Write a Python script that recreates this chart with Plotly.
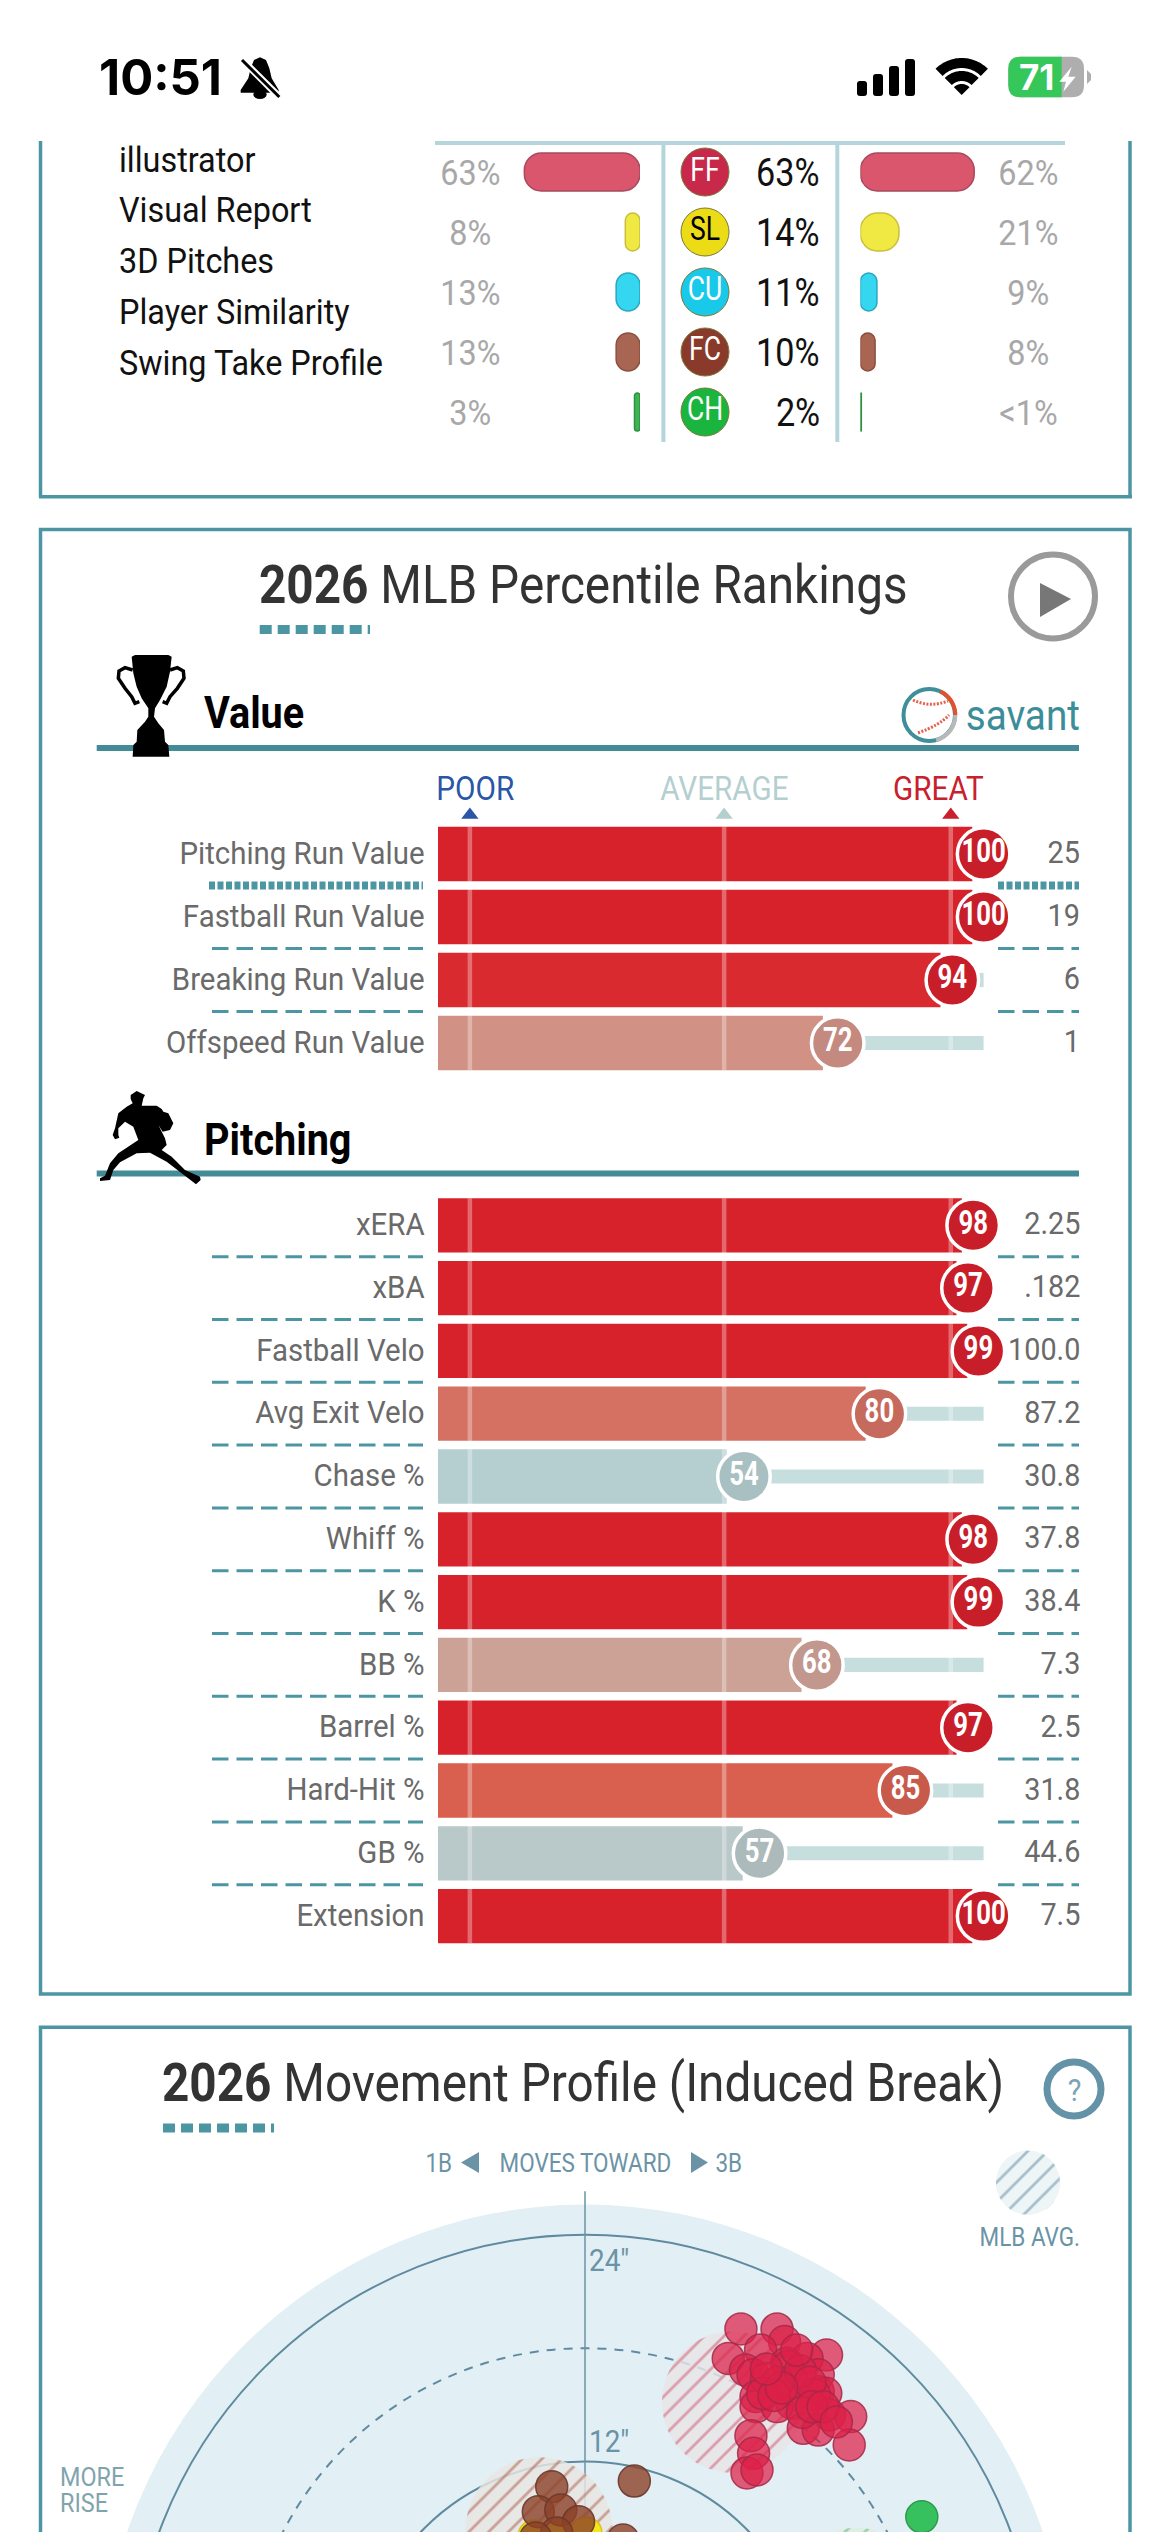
import numpy as np
import plotly.graph_objects as go

W, H = 1170, 2532
TEXT_FONT = "Roboto, sans-serif"
UI = "Inter, Liberation Sans, sans-serif"

# Pitch usage table
menu_items = ["illustrator", "Visual Report", "3D Pitches", "Player Similarity", "Swing Take Profile"]
menu_rows_y = [160, 210, 261, 312, 363]
pitch_codes = ["FF", "SL", "CU", "FC", "CH"]
usage_left = [63, 8, 13, 13, 3]
usage_mid = [63, 14, 11, 10, 2]
usage_right = [62, 21, 9, 8, 0.5]
usage_right_labels = ["62%", "21%", "9%", "8%", "<1%"]
pitch_fill = ["#d9566c", "#f0e843", "#35d7f0", "#a86552", "#3db552"]
pitch_edge = ["#a84a5c", "#c8bf3c", "#2aa5c0", "#8a4f40", "#2f8f40"]
badge_fill = ["#c8284a", "#ecdc15", "#19c9ea", "#8a3a2a", "#19b53e"]
badge_text = ["white", "black", "white", "white", "white"]

# Percentile rankings
value_names = ["Pitching Run Value", "Fastball Run Value", "Breaking Run Value", "Offspeed Run Value"]
value_pct = [100, 100, 94, 72]
value_stat = ["25", "19", "6", "1"]
value_bar = ["#d8222b", "#d8222b", "#d92a30", "#d19184"]
value_dot = ["#c81e29", "#c81e29", "#c81e29", "#c48a80"]

pitching_names = ["xERA", "xBA", "Fastball Velo", "Avg Exit Velo", "Chase %", "Whiff %",
                  "K %", "BB %", "Barrel %", "Hard-Hit %", "GB %", "Extension"]
pitching_pct = [98, 97, 99, 80, 54, 98, 99, 68, 97, 85, 57, 100]
pitching_stat = ["2.25", ".182", "100.0", "87.2", "30.8", "37.8", "38.4", "7.3", "2.5", "31.8", "44.6", "7.5"]
pitching_bar = ["#d8222b", "#d8222b", "#d8222b", "#d47162", "#b5cfd1", "#d8222b",
                "#d8222b", "#cca196", "#d8222b", "#d95f4e", "#b9c8c9", "#d8222b"]
pitching_dot = ["#c81e29", "#c81e29", "#c81e29", "#c56a5c", "#a9c0c3", "#c81e29",
                "#c81e29", "#c2978e", "#c81e29", "#c85a4b", "#adbabb", "#c81e29"]

guide_pct = [1.4, 50.2, 93.7]
guide_names = ["POOR", "AVERAGE", "GREAT"]
guide_colors = ["#2a56a5", "#b5cfd1", "#c8202c"]
guide_label_px = [475, 724, 938]

# Movement profile, in inches of induced break
ff_x = [8.25, 10.16, 10.56, 9.29, 7.58, 12.78, 11.75, 10.67, 8.49, 8.89, 10.75, 12.34, 10.95, 9.05, 12.34,
        11.15, 12.74, 12.14, 9.05, 10.95, 10.16, 12.94, 14.06, 11.55, 12.34, 13.98, 8.78, 8.92, 8.57, 9.1,
        9.6, 10.2, 11.4, 11.9, 9.4, 10.0, 10.4, 11.5, 12.0, 12.6, 13.3, 9.6, 11.2]
ff_y = [19.02, 19.02, 18.35, 17.91, 17.46, 17.64, 17.46, 17.2, 16.85, 16.59, 17.03, 16.59, 16.23, 15.44, 15.7,
        15.53, 15.61, 15.53, 14.91, 15.09, 14.91, 14.47, 14.38, 13.76, 13.67, 12.88, 13.37, 12.44, 11.4, 11.56,
        16.4, 16.2, 16.8, 16.2, 15.6, 15.5, 15.9, 14.6, 14.9, 14.9, 14.1, 16.9, 17.9]
fc_x = [-1.76, -2.47, -1.28, -0.34, -1.5, -2.61, 2.01, 2.61]
fc_y = [10.67, 9.35, 9.44, 8.82, 8.22, 7.96, 7.85, 10.97]
sl_x = [-2.7, -1.34, 0.05]
sl_y = [8.06, 8.17, 8.22]
ch_x = [17.82]
ch_y = [9.08]
avg_centers = {"FF": (7.81, 15.15, 3.74), "FC": (-2.43, 8.33, 3.9), "CH": (14.36, 5.1, 3.4), "ALL": (23.44, 26.76, 1.7)}
ring_inches = [12, 18, 24]
outer_inches = 25.6

# Pixel layout of the page
BAR_LEFT, BAR_FULL, DOT_FULL, DOT_AXIS_RIGHT = 438, 972.6, 983.6, 1010
PX_PER_PCT = 5.21
VALUE_Y0, VALUE_STEP = 854, 63
PITCH_Y0, PITCH_STEP = 1225.3, 62.8
TEAL = "#4c96a3"
RULE = "#438c97"
SLATE = "#6a93a6"
LABEL = "#6a6a6a"


def fx(px):
    return px / W


def fy(py):
    return 1 - py / H


fig = go.Figure()
shapes = []
notes = []


def note(x, y, text, size, color, anchor="left", yref="paper", family=TEXT_FONT, lift=0):
    x = x - 3 if anchor == "left" else x + 3 if anchor == "right" else x
    notes.append(dict(x=fx(x), y=fy(y) if yref == "paper" else y, xref="paper", yref=yref, text=text,
                      showarrow=False, xanchor=anchor, yanchor="middle", yshift=lift, align="left",
                      font=dict(family=family, size=size, color=color)))


def px_shape(**kw):
    kw.setdefault("xref", "x7")
    kw.setdefault("yref", "y5")
    kw.setdefault("layer", "above")
    shapes.append(kw)


def poly(points, close=True):
    s = "M " + " L ".join(f"{x:.2f},{y:.2f}" for x, y in points)
    return s + (" Z" if close else "")


def hline(x0, x1, y, color, width, dash="solid"):
    px_shape(type="line", x0=x0, x1=x1, y0=y, y1=y, line=dict(color=color, width=width, dash=dash))


def vline(x, y0, y1, color, width, dash="solid"):
    px_shape(type="line", x0=x, x1=x, y0=y0, y1=y1, line=dict(color=color, width=width, dash=dash))


def arc(cx, cy, r, a0, a1, n=40):
    t = np.radians(np.linspace(a0, a1, n))
    return list(zip(cx + r * np.cos(t), cy + r * np.sin(t)))


def rounded(x0, y0, x1, y1, r):
    return (f"M {x0+r},{y0} L {x1-r},{y0} Q {x1},{y0} {x1},{y0+r} L {x1},{y1-r} Q {x1},{y1} {x1-r},{y1} "
            f"L {x0+r},{y1} Q {x0},{y1} {x0},{y1-r} L {x0},{y0+r} Q {x0},{y0} {x0+r},{y0} Z")


# ---------- status bar ----------
note(100, 77, "<b>10:51</b>", 49, "black", family=UI)
bell = [(510, 52), (528, 60), (538, 85), (545, 115), (566, 150), (566, 158), (452, 158), (452, 150), (475, 115),
        (482, 85), (492, 60)]
bell_px = [(90 + a / 3, 40 + b / 3) for a, b in bell]
px_shape(type="path", path=poly(bell_px), fillcolor="black", line=dict(width=0))
px_shape(type="circle", x0=90 + 490 / 3, x1=90 + 530 / 3, y0=40 + 150 / 3, y1=40 + 177 / 3, fillcolor="black",
         line=dict(width=0))
px_shape(type="line", x0=90 + 452 / 3, y0=40 + 55 / 3, x1=90 + 572 / 3, y1=40 + 175 / 3, line=dict(color="white", width=7))
px_shape(type="line", x0=90 + 456 / 3, y0=40 + 60 / 3, x1=90 + 568 / 3, y1=40 + 171 / 3, line=dict(color="black", width=3))
for bx, top in zip([857, 873, 889, 905], [81, 74, 66, 59]):
    px_shape(type="path", path=rounded(bx, top, bx + 10, 96, 3), fillcolor="black", line=dict(width=0))
wifi_c = (961.7, 95)
for r0, r1 in [(27, 37), (14, 24)]:
    band = arc(*wifi_c, r1, -135, -45) + arc(*wifi_c, r0, -45, -135)
    px_shape(type="path", path=poly(band), fillcolor="black", line=dict(width=0))
px_shape(type="path", path=poly([wifi_c] + arc(*wifi_c, 11, -135, -45)), fillcolor="black", line=dict(width=0))
px_shape(type="path", path=rounded(1008.3, 56.7, 1084, 97.3, 12), fillcolor="#aeaeae", line=dict(width=0))
px_shape(type="path", path="M 1020,56.7 L 1061.7,56.7 L 1061.7,97.3 L 1020,97.3 Q 1008.3,97.3 1008.3,85 L 1008.3,69 Q 1008.3,56.7 1020,56.7 Z",
         fillcolor="#35c759", line=dict(width=0))
px_shape(type="path", path=poly([(1087, 70), (1091, 74), (1091, 80), (1087, 84)]), fillcolor="#aeaeae", line=dict(width=0))
note(1036, 77, "<b>71</b>", 35, "white", anchor="center", family=UI)
bolt = [(575, 80), (538, 125), (558, 125), (550, 155), (587, 110), (565, 110)]
px_shape(type="path", path=poly([(880 + a / 3, 40 + b / 3) for a, b in bolt]), fillcolor="white", line=dict(width=0))

# ---------- panel frames ----------
vline(40.5, 141, 497, TEAL, 3.5)
vline(1130, 141, 497, TEAL, 3.5)
hline(39, 1132, 496.7, TEAL, 3.5)
px_shape(type="rect", x0=40.5, x1=1130, y0=529.6, y1=1994, line=dict(color=TEAL, width=3.5), layer="below")
px_shape(type="rect", x0=40.5, x1=1130, y0=2027.3, y1=2600, line=dict(color=TEAL, width=3.5), layer="below")

# ---------- pitch usage table ----------
for label, y in zip(menu_items, menu_rows_y):
    note(120, y, label, 36, "#111111")
rows = list(range(len(pitch_codes)))

# An explicit zero base makes Plotly round both ends of each bar
for values, axis in ((usage_left, "x3"), (usage_right, "x5")):
    fig.add_bar(x=values, y=rows, base=[0] * len(rows), orientation="h", width=0.633, xaxis=axis, yaxis="y3",
                marker=dict(color=pitch_fill, line=dict(color=pitch_edge, width=1.5), cornerradius=17))
fig.add_scatter(x=[0] * len(rows), y=rows, mode="markers+text", text=pitch_codes, textposition="middle center",
                xaxis="x4", yaxis="y3", cliponaxis=False,
                textfont=dict(family=TEXT_FONT, size=34, color=badge_text),
                marker=dict(size=48, color=badge_fill, line=dict(color="#7a7a3a", width=1)))
for i in rows:
    note(470, i, f"{usage_left[i]}%", 36, "#a8a8a8", "center", "y3", lift=-1)
    note(818.6, i, f"{usage_mid[i]}%", 38, "#111111", "right", "y3", lift=-1)
    note(1028, i, usage_right_labels[i], 36, "#a8a8a8", "center", "y3", lift=-1)
hline(435, 1065, 143, "#b5d5dc", 4)
vline(663.4, 141, 442, "#b5d5dc", 4)
vline(837.3, 141, 442, "#b5d5dc", 4)

# ---------- percentile panel headings ----------
note(259.7, 585, "<b>2026</b> MLB Percentile Rankings", 53, "#333333")
hline(259.7, 370, 629.5, TEAL, 9, "12px,6px")
px_shape(type="circle", x0=1011, x1=1095, y0=554.5, y1=638.5, line=dict(color="#9a9a9a", width=6))
px_shape(type="path", path=poly([(1040, 583), (1071, 599), (1040, 617)]), fillcolor="#777777", line=dict(width=0))

hline(96.7, 1079, 748, RULE, 6)
note(205, 713, "<b>Value</b>", 44, "black")
note(1079, 715, "savant", 43, "#3b8d99", "right")
px_shape(type="circle", x0=903.5, x1=955, y0=689, y1=741, line=dict(color="#3f8e99", width=4))
px_shape(type="path", path=poly(arc(929.3, 715, 26, -65, 0), close=False), line=dict(color="#e2522c", width=4))
px_shape(type="path", path=poly(arc(929.3, 715, 26, 0, 75), close=False), line=dict(color="#b9b9b9", width=4))
px_shape(type="path", path="M 913,700 Q 930,708 948,701", line=dict(color="#e2624a", width=3, dash="2px,1.5px"))
px_shape(type="path", path="M 918,733 Q 940,725 949,715", line=dict(color="#e2624a", width=3, dash="2px,1.5px"))

# Trophy icon
cup = [(125, 35), (135, 30), (235, 30), (245, 35), (240, 80), (230, 125), (210, 165), (195, 190), (192, 215), (205, 235),
       (222, 255), (225, 290), (235, 300), (238, 335), (128, 335), (130, 300), (140, 290), (142, 255), (165, 230),
       (175, 215), (175, 190), (155, 160), (140, 125), (130, 85)]
px_shape(type="path", path=poly([(90 + a / 3, 645 + b / 3) for a, b in cup]), fillcolor="black", line=dict(width=0))
handle_l = [(128, 75), (105, 68), (87, 78), (85, 100), (105, 130), (125, 155), (135, 175), (148, 170)]
handle_r = [(240, 75), (262, 68), (280, 78), (282, 100), (262, 130), (240, 155), (230, 175), (218, 170)]
for h in (handle_l, handle_r):
    px_shape(type="path", path=poly([(90 + a / 3, 645 + b / 3) for a, b in h], close=False),
             line=dict(color="black", width=3.5))

hline(96.7, 1079, 1173.5, RULE, 6)
note(205, 1140, "<b>Pitching</b>", 44, "black")
# Pitcher icon
pitcher = [(122, 30), (140, 18), (165, 30), (160, 40), (155, 62), (200, 62), (215, 72), (220, 80), (235, 85), (250, 115),
           (240, 135), (218, 140), (205, 120), (225, 160), (230, 180), (215, 195), (245, 215), (285, 255), (330, 275),
           (332, 285), (318, 298), (275, 265), (230, 230), (180, 203), (140, 205), (90, 232), (70, 255), (60, 285),
           (30, 288), (30, 280), (45, 272), (60, 235), (85, 205), (145, 165), (130, 125), (105, 110), (85, 130),
           (85, 150), (88, 158), (75, 163), (68, 150), (75, 130), (85, 85), (110, 65), (128, 55), (122, 42)]
px_shape(type="path", path=poly([(90 + a / 3, 1085 + b / 3) for a, b in pitcher]), fillcolor="black", line=dict(width=0))

# ---------- percentile rows ----------
DOT_AXIS_MIN = 100 - (DOT_FULL - BAR_LEFT) / PX_PER_PCT
DOT_AXIS_MAX = 100 + (DOT_AXIS_RIGHT - DOT_FULL) / PX_PER_PCT


def section(yaxis, pct, stat, bars, dots_color):
    idx = list(range(len(pct)))
    fig.add_bar(x=pct, y=idx, orientation="h", width=0.865, xaxis="x", yaxis=yaxis,
                marker=dict(color=bars, line=dict(width=0)))
    fig.add_bar(x=[100 - p for p in pct], y=idx, base=pct, orientation="h", width=0.225, xaxis="x2", yaxis=yaxis,
                marker=dict(color="#c7dede", line=dict(width=0)))
    for g in guide_pct:
        fig.add_scatter(x=[g, g], y=[-0.43, idx[-1] + 0.43], mode="lines", xaxis="x2", yaxis=yaxis,
                        line=dict(color="rgba(255,255,255,0.32)", width=4.5), hoverinfo="skip")
    fig.add_scatter(x=pct, y=idx, mode="markers+text", text=[str(p) for p in pct], textposition="middle center",
                    xaxis="x2", yaxis=yaxis, cliponaxis=False,
                    textfont=dict(family=TEXT_FONT, size=33, color="white", weight="bold"),
                    marker=dict(size=52.5, color=dots_color, line=dict(color="white", width=3.5)))
    for i, s in zip(idx, stat):
        note(1079, i, s, 32, LABEL, "right", yaxis, lift=2)
    for i in idx[:-1]:
        heavy = yaxis == "y" and i == 0
        w, d = (8, "6px,2.5px") if heavy else (3, "16.5px,8px")
        left = 209 if heavy else 212
        shapes.append(dict(type="line", xref="paper", yref=yaxis, x0=fx(left), x1=fx(423), y0=i + 0.5, y1=i + 0.5,
                           line=dict(color=TEAL, width=w, dash=d)))
        shapes.append(dict(type="line", xref="paper", yref=yaxis, x0=fx(998), x1=fx(1079), y0=i + 0.5, y1=i + 0.5,
                           line=dict(color=TEAL, width=w, dash=d)))


section("y", value_pct, value_stat, value_bar, value_dot)
section("y2", pitching_pct, pitching_stat, pitching_bar, pitching_dot)

# POOR / AVERAGE / GREAT markers above the first section
fig.add_scatter(x=guide_pct, y=[(815 - VALUE_Y0) / VALUE_STEP] * 3, mode="markers", xaxis="x2", yaxis="y",
                cliponaxis=False, marker=dict(symbol="triangle-up", size=15, color=guide_colors))
for name, c, x in zip(guide_names, guide_colors, guide_label_px):
    note(x, 788, name, 33, c, "center")

# ---------- movement profile ----------
note(163, 2083, "<b>2026</b> Movement Profile (Induced Break)", 53, "#333333")
hline(163, 274, 2128, TEAL, 9, "12px,6px")
px_shape(type="circle", x0=1047, x1=1101, y0=2062, y1=2116, line=dict(color="#6493a8", width=7))
note(1074, 2090, "?", 32, "#7ca3b5", "center")
note(585, 2163, "MOVES TOWARD", 25, SLATE, "center")
note(439, 2163, "1B", 25, SLATE, "center")
note(729, 2163, "3B", 25, SLATE, "center")
px_shape(type="path", path=poly([(479, 2152), (479, 2173), (461, 2162.5)]), fillcolor=SLATE, line=dict(width=0))
px_shape(type="path", path=poly([(691, 2152), (691, 2173), (708, 2162.5)]), fillcolor=SLATE, line=dict(width=0))
note(1030, 2237, "MLB AVG.", 25, SLATE, "center")
note(61, 2494, "MORE<br>RISE", 26, "#7fa4ad")
note(590, 2260, '24"', 31, SLATE)
note(590, 2441, '12"', 31, SLATE)

shapes.append(dict(type="circle", xref="x6", yref="y4", x0=-outer_inches, x1=outer_inches, y0=-outer_inches,
                   y1=outer_inches, fillcolor="#e2f0f5", line=dict(width=0), layer="below"))
for r in ring_inches:
    shapes.append(dict(type="circle", xref="x6", yref="y4", x0=-r, x1=r, y0=-r, y1=r, layer="below",
                       line=dict(color="#5f8a9f", width=2, dash="9px,8px" if r == 18 else "solid")))
shapes.append(dict(type="line", xref="x6", yref="y4", x0=0, x1=0, y0=0, y1=26.3, layer="below",
                   line=dict(color="#6a93a6", width=1.5)))


def hatched(key, fg, bg):
    cx, cy, r = avg_centers[key]
    t = np.linspace(0, 2 * np.pi, 90)
    fig.add_scatter(x=cx + r * np.cos(t), y=cy + r * np.sin(t), mode="lines", fill="toself", xaxis="x6", yaxis="y4",
                    line=dict(width=0, color=bg), hoverinfo="skip",
                    fillpattern=dict(shape="/", size=14, solidity=0.2, fgcolor=fg, bgcolor=bg))


hatched("FF", "#cf5470", "rgba(232,228,230,0.82)")
hatched("FC", "#ad5545", "rgba(232,230,226,0.82)")
hatched("CH", "#55b86a", "rgba(222,238,226,0.82)")
hatched("ALL", "#5f8a9f", "#eef5f7")


def dots(xs, ys, fill, edge, size=32):
    fig.add_scatter(x=xs, y=ys, mode="markers", xaxis="x6", yaxis="y4", cliponaxis=True,
                    marker=dict(size=size, color=fill, line=dict(color=edge, width=1.5)))


dots(sl_x, sl_y, "#f3e71b", "#d6c41a")
dots(ff_x, ff_y, "rgba(220,32,72,0.72)", "rgba(165,40,72,0.85)")
dots(fc_x, fc_y, "rgba(140,65,40,0.8)", "rgba(105,55,45,0.9)")
dots(ch_x, ch_y, "rgba(45,190,85,0.95)", "#2f9a50")

# Full-page pixel axes that carry the frames and icons
fig.add_scatter(x=[None], y=[None], xaxis="x7", yaxis="y5", hoverinfo="skip")


def hidden(**kw):
    return dict(visible=False, fixedrange=True, **kw)


def row_axis(names, y0, step, top, bottom):
    n = list(range(len(names)))
    return dict(domain=[fy(bottom), fy(top)], range=[(bottom - y0) / step, (top - y0) / step], anchor="x",
                tickmode="array", tickvals=n, ticktext=names, ticks="outside", ticklen=6,
                tickcolor="rgba(0,0,0,0)", showgrid=False, zeroline=False, showline=False, fixedrange=True,
                tickfont=dict(family=TEXT_FONT, size=32, color=LABEL))


in_per_px = 1 / 18.9
cx_px, cy_px = 585, 2688.4
fig.update_layout(
    width=W, height=H, autosize=False, margin=dict(l=0, r=0, t=0, b=0, pad=0), showlegend=False,
    paper_bgcolor="white", plot_bgcolor="rgba(0,0,0,0)", barmode="overlay", hovermode=False,
    xaxis=hidden(domain=[fx(BAR_LEFT), fx(BAR_FULL)], range=[0, 100], anchor="y"),
    xaxis2=hidden(domain=[fx(BAR_LEFT), fx(DOT_AXIS_RIGHT)], range=[DOT_AXIS_MIN, DOT_AXIS_MAX], anchor="y"),
    yaxis=row_axis(value_names, VALUE_Y0, VALUE_STEP, 800, 1075),
    yaxis2=row_axis(pitching_names, PITCH_Y0, PITCH_STEP, 1180, 1950),
    xaxis3=hidden(domain=[fx(511.5), fx(640)], range=[70, 0], anchor="y3"),
    xaxis4=hidden(domain=[fx(680), fx(730)], range=[-1, 1], anchor="y3"),
    xaxis5=hidden(domain=[fx(860.4), fx(988.9)], range=[0, 70], anchor="y3"),
    yaxis3=hidden(domain=[fy(442), fy(142)], range=[4.5, -0.5], anchor="x3"),
    xaxis6=hidden(domain=[fx(44), fx(1126)], range=[(44 - cx_px) * in_per_px, (1126 - cx_px) * in_per_px], anchor="y4"),
    yaxis4=hidden(domain=[fy(H), fy(2145)], range=[(cy_px - H) * in_per_px, (cy_px - 2145) * in_per_px], anchor="x6"),
    xaxis7=hidden(domain=[0, 1], range=[0, W], anchor="y5"),
    yaxis5=hidden(domain=[0, 1], range=[H, 0], anchor="x7"),
    shapes=shapes, annotations=notes,
)

# Condense the Roboto labels horizontally, holding each label's anchored edge in place,
# and tighten the leading of multi-line notes
CONDENSE = """
var gd = document.querySelector('.js-plotly-plot');
function squeeze(el, anchor, k, dy) {
  if ((el.style.fontFamily || '').indexOf('Inter') >= 0) return;
  var b = el.getBBox();
  var p = anchor === 'left' ? b.x : anchor === 'right' ? b.x + b.width : b.x + b.width / 2;
  var t = el.getAttribute('transform') || '';
  el.setAttribute('transform', t + ' translate(' + p + ',' + dy + ') scale(' + k + ',1) translate(' + (-p) + ',0)');
}
gd.querySelectorAll('.annotation').forEach(function (g) {
  var a = gd.layout.annotations[+g.getAttribute('data-index')];
  var el = g.querySelector('.annotation-text');
  if (!a || !el) return;
  el.querySelectorAll('tspan.line').forEach(function (s) {
    if (s.getAttribute('dy') === '1.3em') s.setAttribute('dy', '1em');
  });
  squeeze(el, a.xanchor, 0.9, 0);
});
gd.querySelectorAll('.ytick text, .y2tick text').forEach(function (el) { squeeze(el, 'right', 0.92, -1.5); });
gd.querySelectorAll('.textpoint text').forEach(function (el) { squeeze(el, 'center', 0.78, 0); });
"""
fig.write_html("out.html", config=dict(displayModeBar=False, responsive=False), post_script=CONDENSE)
